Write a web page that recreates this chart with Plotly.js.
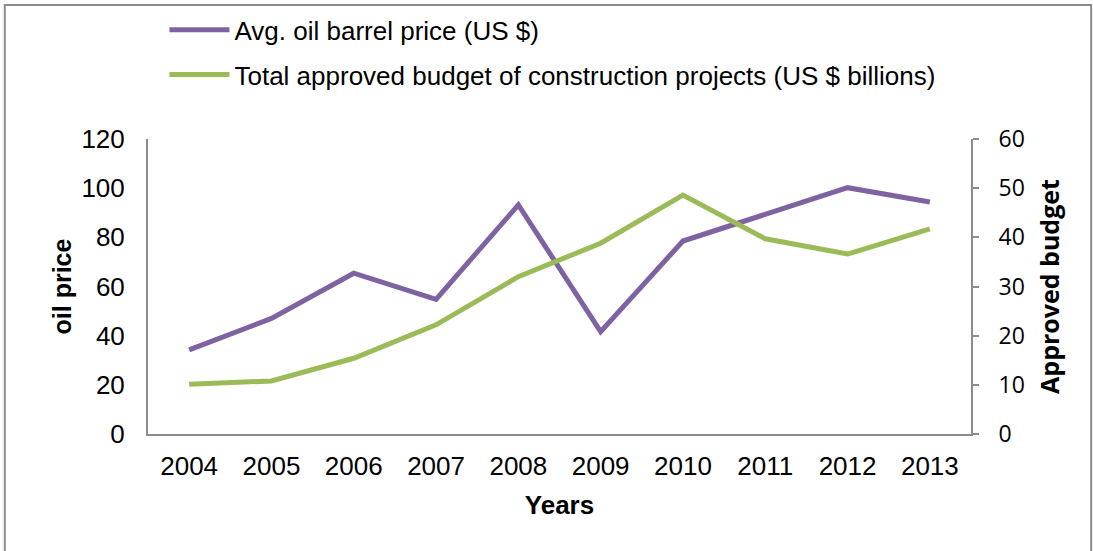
<!DOCTYPE html>
<html>
<head>
<meta charset="utf-8">
<script src="https://cdn.plot.ly/plotly-3.0.1.min.js"></script>
<style>
  html,body{margin:0;padding:0;background:#fff;}
  #chart{width:1093px;height:551px;}
</style>
</head>
<body>
<div id="chart"></div>
<script>
const years = ['2004','2005','2006','2007','2008','2009','2010','2011','2012','2013'];
const oilPrice = [34.2, 47.0, 65.4, 54.8, 93.2, 41.6, 78.5, 89.5, 100.2, 94.4];
const budget = [10.1, 10.8, 15.4, 22.2, 32.0, 38.8, 48.6, 39.7, 36.6, 41.7];
const oilName = 'Avg. oil barrel price (US $)';
const budgetName = 'Total approved budget of construction projects (US $ billions)';

const font = 'Liberation Sans, Arial, sans-serif';
const font2 = 'Open Sans, sans-serif';

const traces = [
  {
    x: years, y: oilPrice, name: oilName, type: 'scatter', mode: 'lines',
    line: {color: '#7E62A1', width: 5}, legendgroup: 'a', yaxis: 'y'
  },
  {
    x: years, y: budget, name: budgetName, type: 'scatter', mode: 'lines',
    line: {color: '#9BBB59', width: 5}, legendgroup: 'b', yaxis: 'y2'
  }
];

const layout = {
  width: 1093, height: 551,
  margin: {l: 148, r: 122, t: 139, b: 117, autoexpand: false},
  paper_bgcolor: '#fff', plot_bgcolor: '#fff',
  font: {family: font, size: 26, color: '#000'},
  showlegend: true,
  legend: {
    x: 0.02, y: 1.45, xanchor: 'left', yanchor: 'top',
    orientation: 'v', traceorder: 'grouped', tracegroupgap: 8,
    font: {family: font, size: 26}, itemwidth: 60, bgcolor: 'rgba(0,0,0,0)'
  },
  xaxis: {
    type: 'category', range: [-0.5, 9.5], showgrid: false, zeroline: false,
    showline: true, linecolor: '#8c8c8c', linewidth: 2,
    ticks: '', ticklabelstandoff: 8,
    tickfont: {family: font, size: 26},
    title: {text: '<b>Years</b>', font: {family: font, size: 26}, standoff: 16}
  },
  yaxis: {
    range: [0, 120], dtick: 20, showgrid: false, zeroline: false,
    showline: true, linecolor: '#8c8c8c', linewidth: 2,
    ticks: '', ticklabelstandoff: 16,
    tickfont: {family: font, size: 26},
    title: {text: '<b>oil price</b>', font: {family: font, size: 25}, standoff: 3}
  },
  yaxis2: {
    range: [0, 60], dtick: 10, overlaying: 'y', side: 'right',
    showgrid: false, zeroline: false,
    showline: true, linecolor: '#8c8c8c', linewidth: 2,
    ticks: 'outside', ticklen: 6, tickcolor: '#8c8c8c', tickwidth: 2,
    ticklabelstandoff: 15,
    tickfont: {family: font2, size: 23},
    title: {text: '<b>Approved budget</b>', font: {family: font2, size: 25}, standoff: 18}
  },
  shapes: [
    {type: 'rect', xref: 'paper', yref: 'paper',
     x0: -0.174, x1: 1.146, y0: -0.45, y1: 1.454,
     line: {color: '#8c8c8c', width: 2}, fillcolor: 'rgba(0,0,0,0)', layer: 'below'}
  ]
};

Plotly.newPlot('chart', traces, layout, {displayModeBar: false, staticPlot: true});
</script>
</body>
</html>
